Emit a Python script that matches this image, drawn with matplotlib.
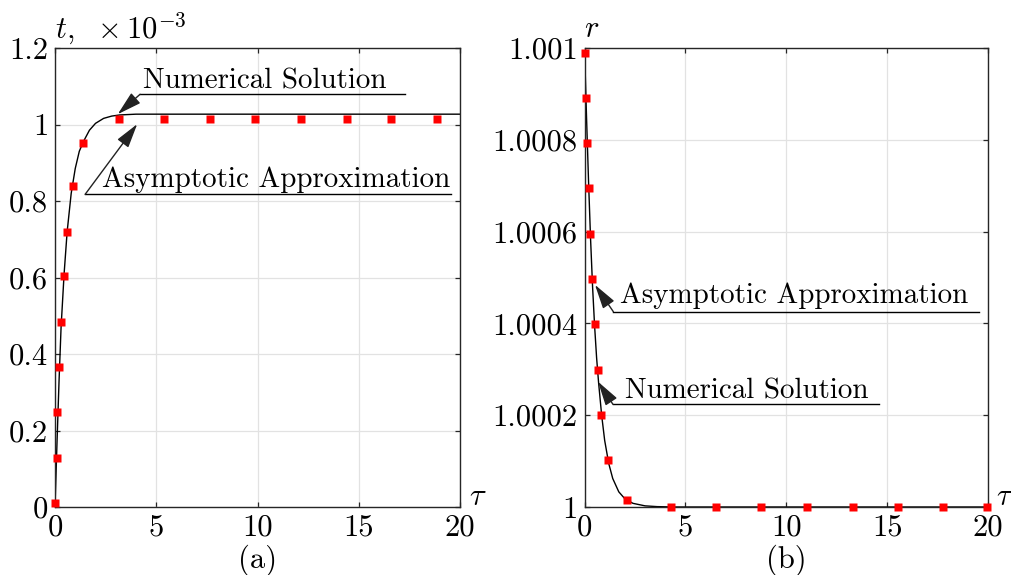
import numpy as np
import matplotlib
matplotlib.use("Agg")
import matplotlib.pyplot as plt

plt.rcParams['font.family'] = 'serif'
plt.rcParams['font.serif'] = ['cmr10']
plt.rcParams['mathtext.fontset'] = 'cm'
plt.rcParams['axes.formatter.use_mathtext'] = True

# (a) t(tau), values in units of 1e-3
tau_line_a = [0, 0.1, 0.2, 0.3, 0.45, 0.6, 0.8, 1.0, 1.2, 1.4, 1.7, 2.0, 2.4, 2.8, 3.2, 4.0, 20]
t_line = [0, 0.17, 0.33, 0.47, 0.61, 0.72, 0.82, 0.885, 0.93, 0.955, 0.985, 1.003,
          1.016, 1.022, 1.025, 1.027, 1.027]
tau_num_a = [0.0, 0.08, 0.11, 0.2, 0.31, 0.45, 0.6, 0.87, 1.4, 3.17, 5.4, 7.66, 9.9,
             12.13, 14.4, 16.6, 18.86]
t_num = [0.011, 0.129, 0.248, 0.366, 0.484, 0.603, 0.72, 0.84, 0.952, 1.014, 1.014,
         1.014, 1.014, 1.014, 1.014, 1.014, 1.014]

# (b) r(tau)
tau_line_b = [0, 0.1, 0.2, 0.3, 0.4, 0.5, 0.6, 0.7, 0.85, 1.0, 1.2, 1.4, 1.7, 2.0, 2.4,
              3.0, 3.6, 4.5, 20]
r_line = [1.001, 1.00085, 1.00071, 1.000585, 1.00048, 1.000395, 1.000325, 1.00027,
          1.0002, 1.000145, 1.000095, 1.000062, 1.000033, 1.000018, 1.000008,
          1.0000025, 1.0000008, 1.0, 1.0]
tau_num_b = [0.03, 0.06, 0.12, 0.21, 0.29, 0.37, 0.5, 0.66, 0.83, 1.15, 2.1, 4.27, 6.53,
             8.77, 11.05, 13.29, 15.55, 17.79, 19.95]
r_num = [1.00099, 1.000892, 1.000792, 1.000694, 1.000595, 1.000496, 1.000398, 1.000298,
         1.0002, 1.000102, 1.0000145, 1.0, 1.0, 1.0, 1.0, 1.0, 1.0, 1.0, 1.0]

x_ticks = [0, 5, 10, 15, 20]
t_ticks = [0, 0.2, 0.4, 0.6, 0.8, 1.0, 1.2]
t_labels = ['0', '0.2', '0.4', '0.6', '0.8', '1', '1.2']
r_ticks = [1.0, 1.0002, 1.0004, 1.0006, 1.0008, 1.001]
r_labels = ['1', '1.0002', '1.0004', '1.0006', '1.0008', '1.001']

W, H = 1012, 575
fig = plt.figure(figsize=(W / 100, H / 100), dpi=100)
ax1 = fig.add_axes([55 / W, 68 / H, 405 / W, 459 / H])
ax2 = fig.add_axes([584.5 / W, 68 / H, 403.5 / W, 459 / H])

spine_col = '#262626'
tick_fs = 22
note_fs = 20.9


def style(ax):
    ax.grid(True, color='#e2e2e2', lw=0.9)
    ax.set_axisbelow(True)
    for s in ax.spines.values():
        s.set_color(spine_col)
        s.set_linewidth(1.0)
    ax.tick_params(direction='in', length=3.6, width=0.9, color=spine_col,
                   top=True, right=True, labelsize=tick_fs, pad=5)
    ax.set_xlim(0, 20)
    ax.set_xticks(x_ticks)
    ax.set_xticklabels([str(v) for v in x_ticks])


def note(ax, text, txy, ux0, ux1, uy, tip):
    ax.text(txy[0], txy[1], text, fontsize=note_fs, ha='left', va='baseline')
    ax.plot([ux0, ux1], [uy, uy], color='k', lw=1.0, clip_on=False)
    ax.annotate('', xy=tip, xytext=(ux0, uy),
                arrowprops=dict(arrowstyle='-|>,head_length=1.5,head_width=0.42',
                                mutation_scale=10, color='#222222', lw=1.0,
                                shrinkA=0, shrinkB=0))


# ---- panel (a)
style(ax1)
ax1.plot(tau_line_a, t_line, color='k', lw=1.0, zorder=2)
ax1.plot(tau_num_a, t_num, 's', color='red', ms=5.5, mec='none', clip_on=False, zorder=3)
ax1.set_ylim(0, 1.2)
ax1.set_yticks(t_ticks)
ax1.set_yticklabels(t_labels)
note(ax1, 'Numerical Solution', (4.36, 1.095), 4.2, 17.3, 1.079, (3.1, 1.027))
note(ax1, 'Asymptotic Approximation', (2.31, 0.837), 1.49, 19.55, 0.8175, (4.06, 1.001))
ax1.text(0, 1.02, r'$t,\;\,\times 10^{-3}$', transform=ax1.transAxes,
         fontsize=tick_fs, ha='left', va='baseline')
ax1.text(1.022, 0.004, r'$\tau$', transform=ax1.transAxes, fontsize=tick_fs,
         ha='left', va='baseline')
ax1.text(0.5, -0.117, '(a)', transform=ax1.transAxes, fontsize=22,
         ha='center', va='center')

# ---- panel (b)
style(ax2)
ax2.plot(tau_line_b, r_line, color='k', lw=1.0, zorder=2)
ax2.plot(tau_num_b, r_num, 's', color='red', ms=5.5, mec='none', clip_on=False, zorder=3)
ax2.set_ylim(1.0, 1.001)
ax2.set_yticks(r_ticks)
ax2.set_yticklabels(r_labels)
note(ax2, 'Asymptotic Approximation', (1.76, 1.000445), 1.43, 19.53, 1.0004255,
     (0.52, 1.000484))
note(ax2, 'Numerical Solution', (2.01, 1.0002353), 1.41, 14.6, 1.0002237,
     (0.67, 1.000273))
ax2.text(0, 1.024, r'$r$', transform=ax2.transAxes, fontsize=tick_fs,
         ha='left', va='baseline')
ax2.text(1.02, 0.004, r'$\tau$', transform=ax2.transAxes, fontsize=tick_fs,
         ha='left', va='baseline')
ax2.text(0.5, -0.117, '(b)', transform=ax2.transAxes, fontsize=22,
         ha='center', va='center')

fig.savefig('out.png', dpi=100)
